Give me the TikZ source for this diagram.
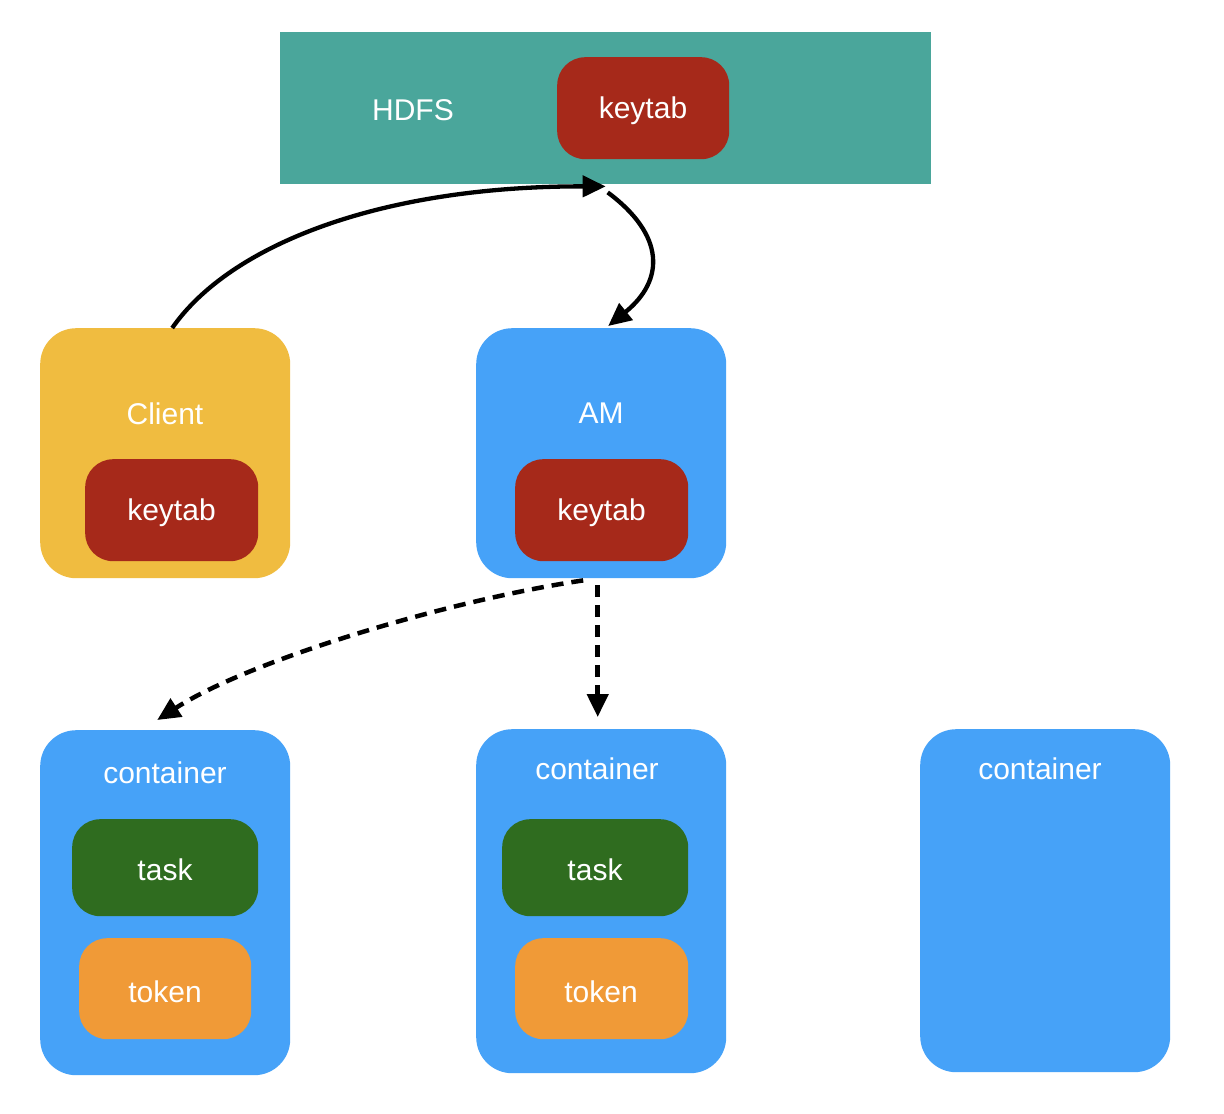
\documentclass[tikz,border=0pt]{standalone}
\usepackage{fontspec}
\setmainfont{Liberation Sans}
\usetikzlibrary{arrows.meta,calc}
\definecolor{teal1}{HTML}{4AA69B}
\definecolor{red1}{HTML}{A6291A}
\definecolor{yel1}{HTML}{F0BC40}
\definecolor{blue1}{HTML}{46A2F8}
\definecolor{green1}{HTML}{2F6C1F}
\definecolor{orange1}{HTML}{F09A37}
\tikzset{
  box/.style={draw=none, rounded corners=#1, inner sep=0pt, anchor=north west},
  big/.style={box=36pt, minimum width=250pt},
  small/.style={box=28pt, text=white, font=\fontsize{30}{34}\selectfont},
  lbl/.style={text=white, font=\fontsize{30}{34}\selectfont, inner sep=0pt, yshift=-2.5pt},
  conn/.style={line width=4.3pt, -{Triangle[length=23pt,width=21pt]}},
  dconn/.style={line width=4.5pt, dash pattern=on 12pt off 8pt, -{Triangle[length=23pt,width=21pt]}},
}
\begin{document}
\begin{tikzpicture}[x=1pt,y=-1pt]
\useasboundingbox[fill=white] (0,0) rectangle (1224,1114);
% HDFS
\node[box=0pt, fill=teal1, minimum width=651pt, minimum height=152pt] (hdfs) at (280,32) {};
\node[lbl] (hdfst) at (413,108) {HDFS};
\node[small, fill=red1, minimum width=172pt, minimum height=102pt] (hk) at (557,57) {};
\node[lbl] (hkt) at (643,108) {keytab};
% Client
\node[big, fill=yel1, minimum height=250pt] (client) at (40,328) {};
\node[lbl] (clientt) at (165,411) {Client};
\node[small, fill=red1, minimum width=173pt, minimum height=102pt] (ck) at (85,459) {};
\node[lbl] (ckt) at (171.5,510) {keytab};
% AM
\node[big, fill=blue1, minimum height=250pt] (am) at (476,328) {};
\node[lbl] (amt) at (601,411) {AM};
\node[small, fill=red1, minimum width=173pt, minimum height=102pt] (ak) at (515,459) {};
\node[lbl] (akt) at (601.5,510) {keytab};
% containers
\node[big, fill=blue1, minimum height=345pt] (c1) at (40,730) {};
\node[lbl] (c1t) at (165,770) {container};
\node[small, fill=green1, minimum width=186pt, minimum height=97pt] (t1) at (72,819) {};
\node[lbl] (t1t) at (165,867) {task};
\node[small, fill=orange1, minimum width=172pt, minimum height=101pt] (k1) at (79,938) {};
\node[lbl] (k1t) at (165,989) {token};
\node[big, fill=blue1, minimum height=344pt] (c2) at (476,729) {};
\node[lbl] (c2t) at (597,766) {container};
\node[small, fill=green1, minimum width=186pt, minimum height=97pt] (t2) at (502,819) {};
\node[lbl] (t2t) at (595,867) {task};
\node[small, fill=orange1, minimum width=173pt, minimum height=101pt] (k2) at (515,938) {};
\node[lbl] (k2t) at (601,989) {token};
\node[big, fill=blue1, minimum height=343pt] (c3) at (920,729) {};
\node[lbl] (c3t) at (1040,766) {container};
% connectors
\draw[conn] ($(client.north)+(7,0)$) .. controls (230,245) and (380,186) .. ($(hdfs.south)+(0,2)$);
\draw[conn] ($(hdfs.south)+(2,8)$) .. controls (665,235) and (665,280) .. ($(am.north)+(7,-2)$);
\draw[dconn] ($(am.south)+(-18,2)$) .. controls (450,600) and (250,660) .. ($(c1.north)+(-8,-10)$);
\draw[dconn] ($(am.south)+(-3.5,7)$) -- ($(c2.north)+(-3.5,-12)$);
\end{tikzpicture}
\end{document}
